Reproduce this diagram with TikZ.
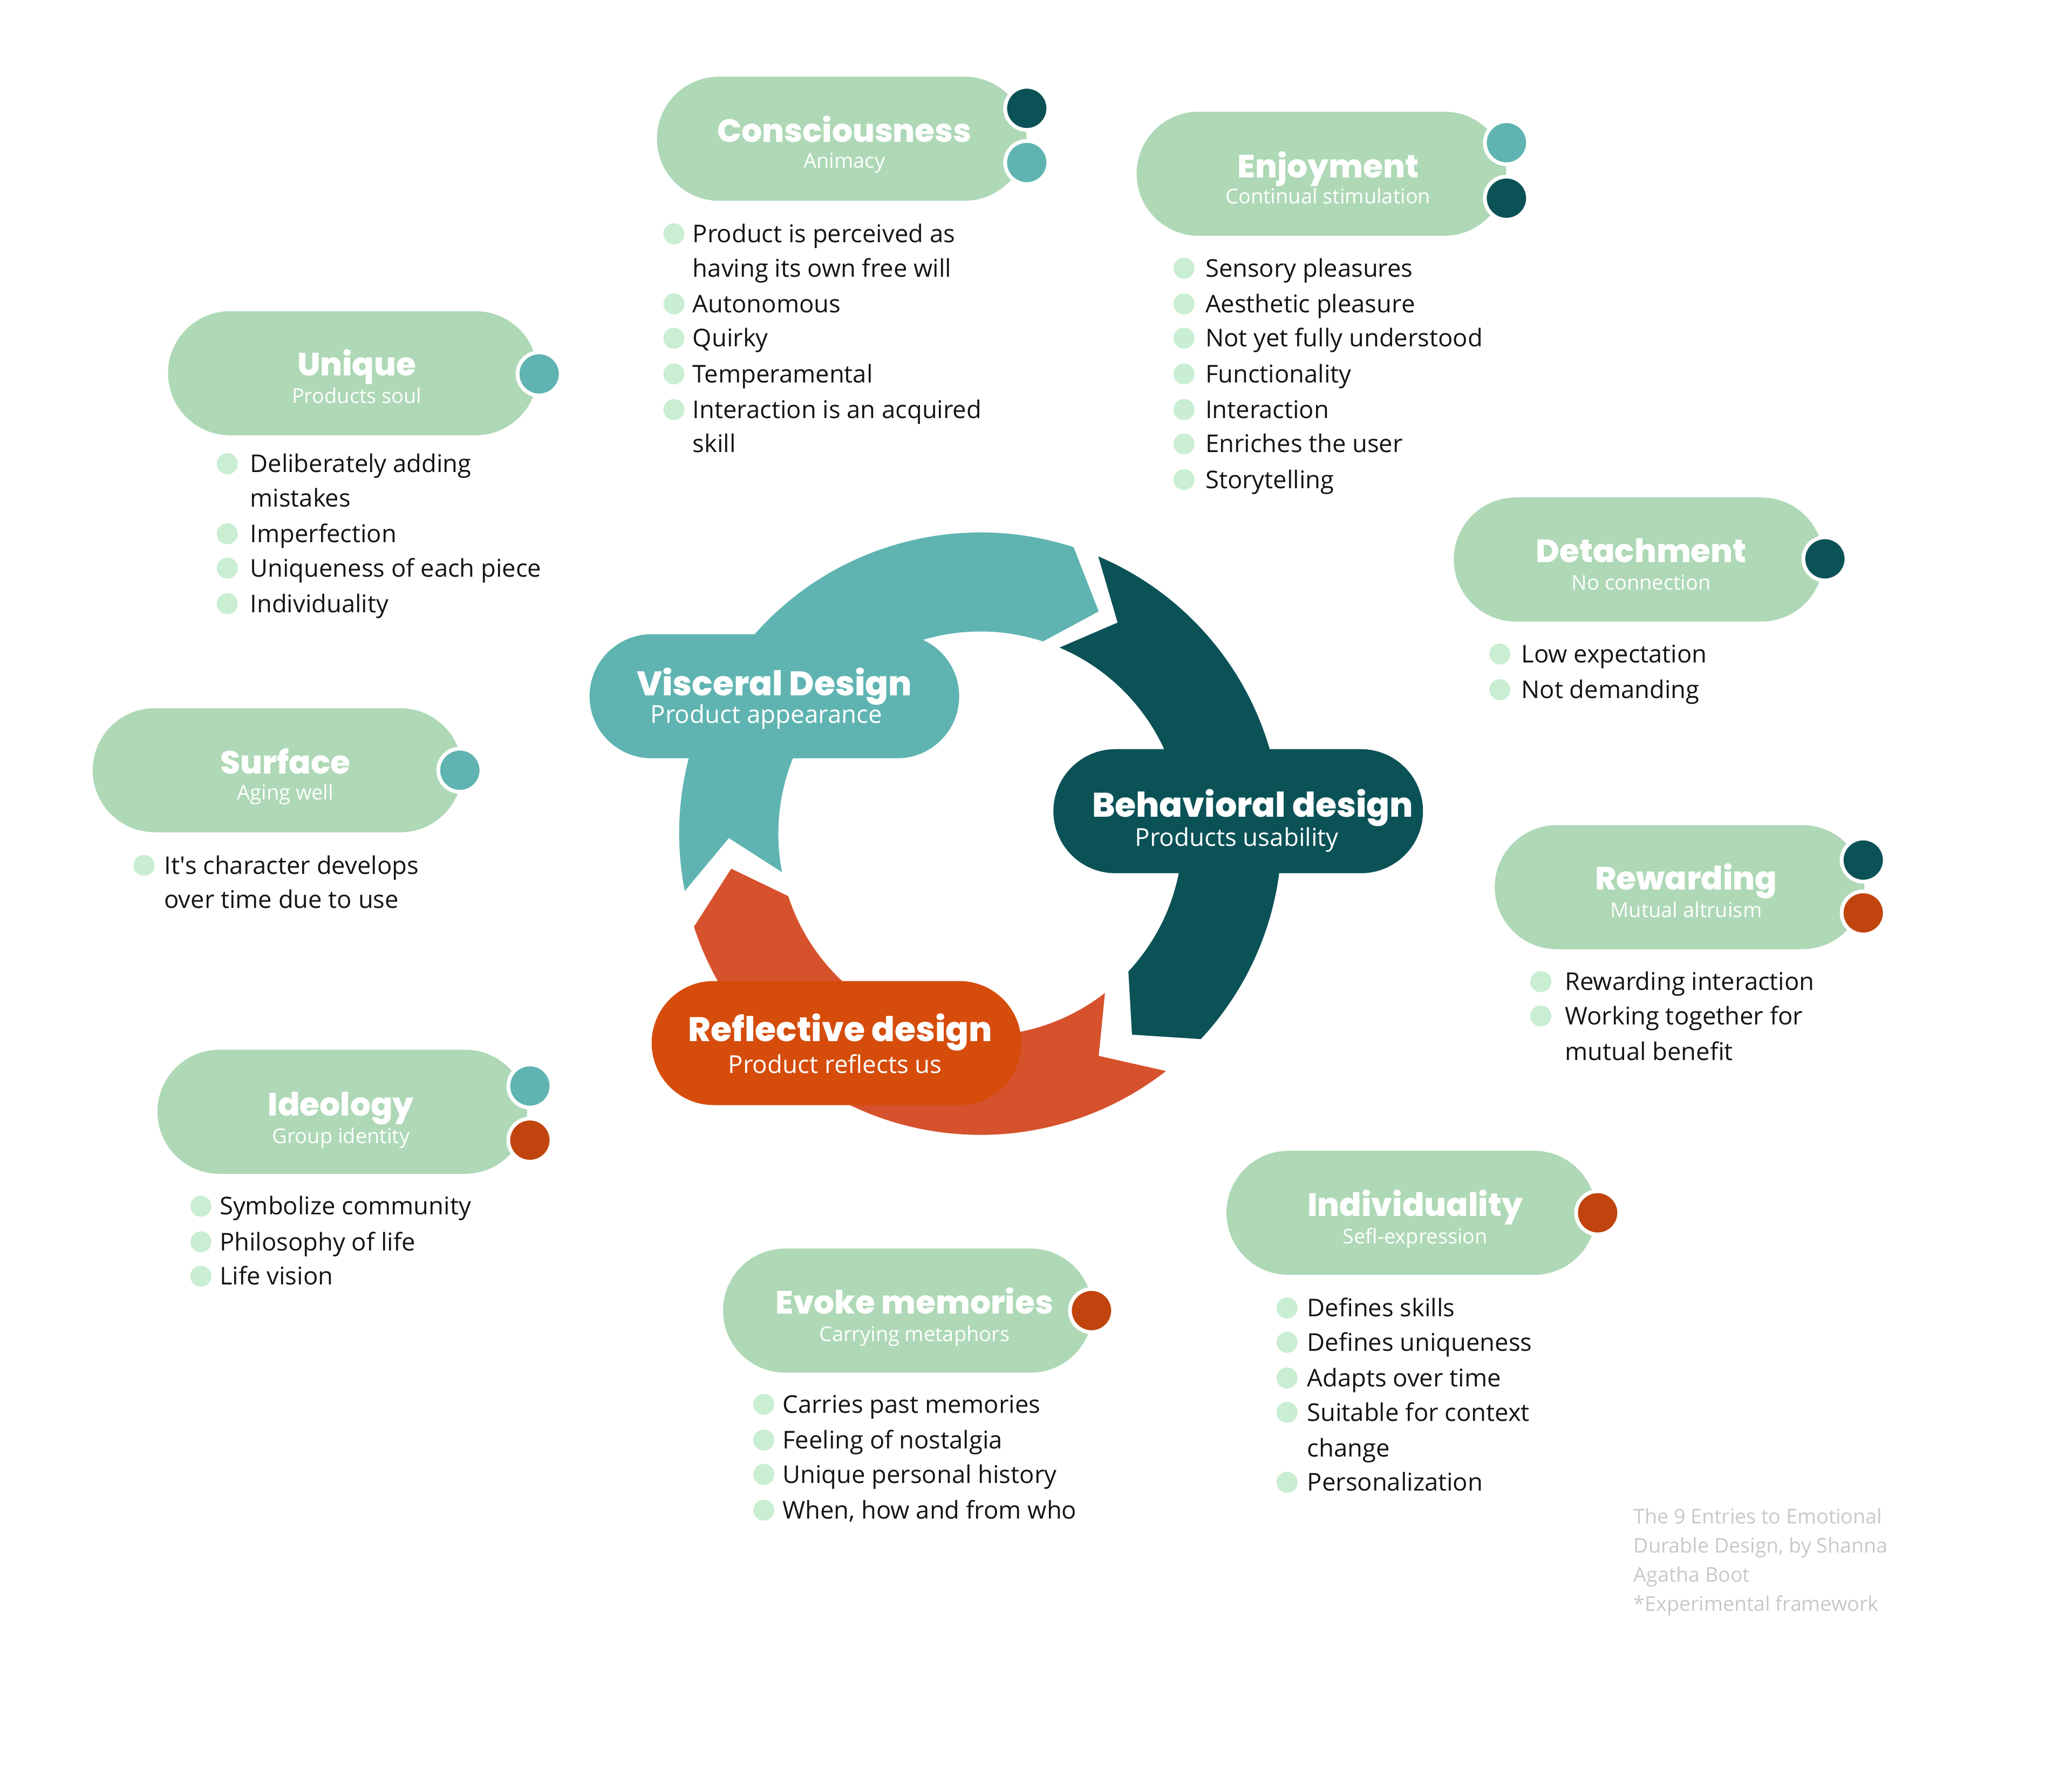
\documentclass[tikz,border=0pt]{standalone}
\usepackage{fontspec}
\setmainfont{Open Sans}
\IfFontExistsTF{Poppins ExtraBold}
    {\newfontfamily\titlefont{Poppins}[BoldFont={Poppins ExtraBold}]}
    {\newfontfamily\titlefont{Poppins}}
\usetikzlibrary{shapes.misc}

\definecolor{pillgreen}{HTML}{AED8B6}
\definecolor{vteal}{HTML}{5FB4B1}
\definecolor{bdark}{HTML}{0B5257}
\definecolor{rorange}{HTML}{D6522C}
\definecolor{rpill}{HTML}{D54C0B}
\definecolor{dotorange}{HTML}{C1440E}
\definecolor{bulletgreen}{HTML}{C9EED2}
\definecolor{bodytext}{HTML}{141414}
\definecolor{footgray}{HTML}{C8C8C8}

\begin{document}
\begin{tikzpicture}[x=0.02449cm, y=-0.02449cm,
    every node/.style={inner sep=0pt},
    pill/.style={rounded rectangle, fill=pillgreen, minimum width=6.85cm, minimum height=2.3cm},
    ttl/.style={anchor=base, yshift=-0.21cm, text=white, font=\titlefont\bfseries\fontsize{17}{20}\selectfont},
    sub/.style={anchor=base, yshift=-0.13cm, text=white, font=\fontsize{10.8}{12}\selectfont},
    bigttl/.style={anchor=base, yshift=-0.23cm, text=white, font=\titlefont\bfseries\fontsize{18}{22}\selectfont},
    bigsub/.style={anchor=base, yshift=-0.16cm, text=white, font=\fontsize{13}{15}\selectfont},
    dot/.style={circle, draw=white, line width=0.07cm, minimum size=0.8cm},
    bullet/.style={circle, fill=bulletgreen, minimum size=0.39cm},
    item/.style={anchor=base west, yshift=-0.16cm, text=bodytext, font=\fontsize{12.9}{15}\selectfont},
    foot/.style={anchor=base west, yshift=-0.13cm, text=footgray, font=\fontsize{10.7}{12}\selectfont}]
    \useasboundingbox (0,0) rectangle (1568,1350);

    % Cycle: three arrow segments round the middle
    \def\rin{153}
    \def\rmid{190.5}
    \def\rout{228}
    \begin{scope}[shift={(742,631)}, yscale=-1]
        \fill[vteal] (191:\rout) arc[start angle=191, end angle=72, radius=\rout]
            -- (62:\rmid) -- (72:\rin) arc[start angle=72, end angle=191, radius=\rin]
            -- (181:\rmid) -- cycle;
        \fill[bdark] (67:\rout) arc[start angle=67, end angle=-43, radius=\rout]
            -- (-53:\rmid) -- (-43:\rin) arc[start angle=-43, end angle=67, radius=\rin]
            -- (57:\rmid) -- cycle;
        \fill[rorange] (-52:\rout) arc[start angle=-52, end angle=-162, radius=\rout]
            -- (-172:\rmid) -- (-162:\rin) arc[start angle=-162, end angle=-52, radius=\rin]
            -- (-62:\rmid) -- cycle;
    \end{scope}

    % Central pills
    \node[pill, fill=vteal] (vis) at (586,527) {};
    \node[bigttl] (visT) at (586,517) {Visceral Design};
    \node[bigsub] (visS) at (580,541) {Product appearance};

    \node[pill, fill=bdark] (beh) at (937,614) {};
    \node[bigttl] (behT) at (948,609) {Behavioral design};
    \node[bigsub] (behS) at (936,634) {Products usability};

    \node[pill, fill=rpill] (refl) at (633,789.5) {};
    \node[bigttl] (reflT) at (636,779) {Reflective design};
    \node[bigsub] (reflS) at (632,806) {Product reflects us};

    % Consciousness
    \node[pill] (cons) at (637,105) {};
    \node[ttl] (consT) at (639,99) {Consciousness};
    \node[sub] (consS) at (639,122) {Animacy};
    \node[dot, fill=bdark] (consD1) at (777,82) {};
    \node[dot, fill=vteal] (consD2) at (777,123) {};
    \node[bullet] (consB1) at (510,177) {};
    \node[item] (consI1) at (524,177) {Product is perceived as};
    \node[item] (consI1b) at (524,203) {having its own free will};
    \node[bullet] (consB2) at (510,230) {};
    \node[item] (consI2) at (524,230) {Autonomous};
    \node[bullet] (consB3) at (510,256) {};
    \node[item] (consI3) at (524,256) {Quirky};
    \node[bullet] (consB4) at (510,283) {};
    \node[item] (consI4) at (524,283) {Temperamental};
    \node[bullet] (consB5) at (510,310) {};
    \node[item] (consI5) at (524,310) {Interaction is an acquired};
    \node[item] (consI5b) at (524,336) {skill};

    % Enjoyment
    \node[pill] (enj) at (1000,131.5) {};
    \node[ttl] (enjT) at (1005,126) {Enjoyment};
    \node[sub] (enjS) at (1005,149) {Continual stimulation};
    \node[dot, fill=vteal] (enjD1) at (1140,108) {};
    \node[dot, fill=bdark] (enjD2) at (1140,150) {};
    \node[bullet] (enjB1) at (896,203) {};
    \node[item] (enjI1) at (912,203) {Sensory pleasures};
    \node[bullet] (enjB2) at (896,230) {};
    \node[item] (enjI2) at (912,230) {Aesthetic pleasure};
    \node[bullet] (enjB3) at (896,256) {};
    \node[item] (enjI3) at (912,256) {Not yet fully understood};
    \node[bullet] (enjB4) at (896,283) {};
    \node[item] (enjI4) at (912,283) {Functionality};
    \node[bullet] (enjB5) at (896,310) {};
    \node[item] (enjI5) at (912,310) {Interaction};
    \node[bullet] (enjB6) at (896,336) {};
    \node[item] (enjI6) at (912,336) {Enriches the user};
    \node[bullet] (enjB7) at (896,363) {};
    \node[item] (enjI7) at (912,363) {Storytelling};

    % Unique
    \node[pill] (uniq) at (267,282.5) {};
    \node[ttl] (uniqT) at (270,276) {Unique};
    \node[sub] (uniqS) at (270,300) {Products soul};
    \node[dot, fill=vteal] (uniqD1) at (408,283) {};
    \node[bullet] (uniqB1) at (172,351) {};
    \node[item] (uniqI1) at (189,351) {Deliberately adding};
    \node[item] (uniqI1b) at (189,377) {mistakes};
    \node[bullet] (uniqB2) at (172,404) {};
    \node[item] (uniqI2) at (189,404) {Imperfection};
    \node[bullet] (uniqB3) at (172,430) {};
    \node[item] (uniqI3) at (189,430) {Uniqueness of each piece};
    \node[bullet] (uniqB4) at (172,457) {};
    \node[item] (uniqI4) at (189,457) {Individuality};

    % Detachment
    \node[pill] (det) at (1240,423.5) {};
    \node[ttl] (detT) at (1242,417) {Detachment};
    \node[sub] (detS) at (1242,441) {No connection};
    \node[dot, fill=bdark] (detD1) at (1381,423) {};
    \node[bullet] (detB1) at (1135,495) {};
    \node[item] (detI1) at (1151,495) {Low expectation};
    \node[bullet] (detB2) at (1135,522) {};
    \node[item] (detI2) at (1151,522) {Not demanding};

    % Surface
    \node[pill] (surf) at (210,583) {};
    \node[ttl] (surfT) at (216,577) {Surface};
    \node[sub] (surfS) at (216,600) {Aging well};
    \node[dot, fill=vteal] (surfD1) at (348,583) {};
    \node[bullet] (surfB1) at (109,655) {};
    \node[item] (surfI1) at (124,655) {It\textquotesingle s character develops};
    \node[item] (surfI1b) at (124,681) {over time due to use};

    % Rewarding
    \node[pill] (rew) at (1271,671.5) {};
    \node[ttl] (rewT) at (1276,665) {Rewarding};
    \node[sub] (rewS) at (1276,689) {Mutual altruism};
    \node[dot, fill=bdark] (rewD1) at (1410,651) {};
    \node[dot, fill=dotorange] (rewD2) at (1410,691) {};
    \node[bullet] (rewB1) at (1166,743) {};
    \node[item] (rewI1) at (1184,743) {Rewarding interaction};
    \node[bullet] (rewB2) at (1166,769) {};
    \node[item] (rewI2) at (1184,769) {Working together for};
    \node[item] (rewI2b) at (1184,796) {mutual benefit};

    % Ideology
    \node[pill] (ideo) at (259,841.5) {};
    \node[ttl] (ideoT) at (258,836) {Ideology};
    \node[sub] (ideoS) at (258,860) {Group identity};
    \node[dot, fill=vteal] (ideoD1) at (401,822) {};
    \node[dot, fill=dotorange] (ideoD2) at (401,863) {};
    \node[bullet] (ideoB1) at (152,913) {};
    \node[item] (ideoI1) at (166,913) {Symbolize community};
    \node[bullet] (ideoB2) at (152,940) {};
    \node[item] (ideoI2) at (166,940) {Philosophy of life};
    \node[bullet] (ideoB3) at (152,966) {};
    \node[item] (ideoI3) at (166,966) {Life vision};

    % Individuality
    \node[pill] (indiv) at (1068,918) {};
    \node[ttl] (indivT) at (1071,912) {Individuality};
    \node[sub] (indivS) at (1071,936) {Sefl-expression};
    \node[dot, fill=dotorange] (indivD1) at (1209,918) {};
    \node[bullet] (indivB1) at (974,990) {};
    \node[item] (indivI1) at (989,990) {Defines skills};
    \node[bullet] (indivB2) at (974,1016) {};
    \node[item] (indivI2) at (989,1016) {Defines uniqueness};
    \node[bullet] (indivB3) at (974,1043) {};
    \node[item] (indivI3) at (989,1043) {Adapts over time};
    \node[bullet] (indivB4) at (974,1069) {};
    \node[item] (indivI4) at (989,1069) {Suitable for context};
    \node[item] (indivI4b) at (989,1096) {change};
    \node[bullet] (indivB5) at (974,1122) {};
    \node[item] (indivI5) at (989,1122) {Personalization};

    % Evoke memories
    \node[pill] (evo) at (687,992) {};
    \node[ttl] (evoT) at (692,986) {Evoke memories};
    \node[sub] (evoS) at (692,1010) {Carrying metaphors};
    \node[dot, fill=dotorange] (evoD1) at (826,992) {};
    \node[bullet] (evoB1) at (578,1063) {};
    \node[item] (evoI1) at (592,1063) {Carries past memories};
    \node[bullet] (evoB2) at (578,1090) {};
    \node[item] (evoI2) at (592,1090) {Feeling of nostalgia};
    \node[bullet] (evoB3) at (578,1116) {};
    \node[item] (evoI3) at (592,1116) {Unique personal history};
    \node[bullet] (evoB4) at (578,1143) {};
    \node[item] (evoI4) at (592,1143) {When, how and from who};

    % Credit
    \node[foot] (cred1) at (1236,1148) {The 9 Entries to Emotional};
    \node[foot] (cred2) at (1236,1170) {Durable Design, by Shanna};
    \node[foot] (cred3) at (1236,1192) {Agatha Boot};
    \node[foot] (cred4) at (1236,1214) {*Experimental framework};
\end{tikzpicture}
\end{document}
